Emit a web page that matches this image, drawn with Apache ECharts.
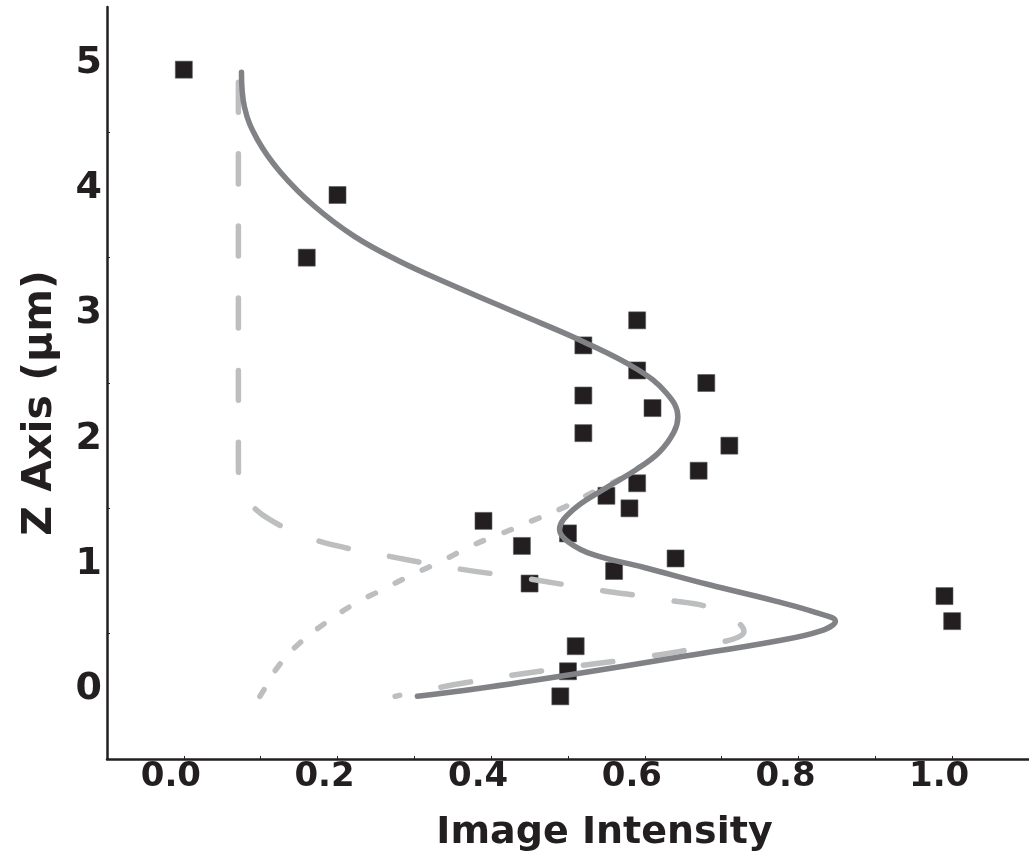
<!DOCTYPE html>
<html>
<head>
<meta charset="utf-8">
<title>Z profile of image intensity</title>
<script src="https://cdn.jsdelivr.net/npm/echarts@6/dist/echarts.min.js"></script>
<style>
  html, body { margin: 0; padding: 0; background: #ffffff; }
  #chart { width: 1029px; height: 863px; }
</style>
</head>
<body>
<div id="chart"></div>
<script>
// Measured intensity at each z position (square markers)
const measIntensity = [0.00, 0.20, 0.16, 0.59, 0.52, 0.59, 0.68, 0.52, 0.61, 0.52,
                       0.71, 0.67, 0.59, 0.55, 0.58, 0.39, 0.50, 0.44, 0.64, 0.56,
                       0.45, 0.99, 1.00, 0.51, 0.50, 0.49];
const measZ        = [5.0, 4.0, 3.5, 3.0, 2.8, 2.6, 2.5, 2.4, 2.3, 2.1,
                       2.0, 1.8, 1.7, 1.6, 1.5, 1.4, 1.3, 1.2, 1.1, 1.0,
                       0.9, 0.8, 0.6, 0.4, 0.2, 0.0];

// Total fitted profile (solid dark gray)
const fitIntensity = [0.075, 0.079, 0.096, 0.126, 0.170, 0.222, 0.278, 0.342, 0.433, 0.520,
                      0.590, 0.628, 0.643, 0.638, 0.619, 0.589, 0.546, 0.507, 0.489,
                      0.501, 0.533, 0.598, 0.684, 0.770, 0.822, 0.848, 0.828, 0.770, 0.641,
                      0.511, 0.381, 0.304];
const fitZ         = [4.98, 4.70, 4.44, 4.18, 3.91, 3.67, 3.48, 3.30, 3.06, 2.83,
                      2.61, 2.42, 2.23, 2.11, 1.95, 1.81, 1.65, 1.49, 1.33,
                      1.23, 1.13, 1.03, 0.89, 0.76, 0.67, 0.60, 0.52, 0.44, 0.31,
                      0.18, 0.06, 0.00];

// First fitted component (long dashes)
const comp1Intensity = [0.071, 0.071, 0.074, 0.089, 0.112, 0.152, 0.200, 0.265, 0.355, 0.446,
                        0.537, 0.628, 0.693, 0.729, 0.684, 0.595, 0.485, 0.368, 0.275];
const comp1Z         = [4.90, 1.87, 1.65, 1.52, 1.41, 1.29, 1.20, 1.12, 1.02, 0.94,
                        0.85, 0.77, 0.69, 0.52, 0.41, 0.31, 0.22, 0.11, 0.00];

// Second fitted component (short dashes)
const comp2Intensity = [0.099, 0.109, 0.123, 0.148, 0.183, 0.220, 0.258, 0.297, 0.336, 0.374,
                        0.414, 0.453, 0.492, 0.530, 0.573];
const comp2Z         = [0.00, 0.10, 0.24, 0.41, 0.58, 0.73, 0.85, 0.97, 1.08, 1.20,
                        1.30, 1.40, 1.50, 1.62, 1.75];

// Axis tick labels
const xTickLabels = ['0.0', '0.2', '0.4', '0.6', '0.8', '1.0'];
const yTickLabels = ['0', '1', '2', '3', '4', '5'];

const pairs = (xs, ys) => xs.map((x, i) => [x, ys[i]]);

const INK = '#231f20';
const FIT = '#808285';
const COMP = '#bcbec0';
const FONT = '"DejaVu Sans", "Liberation Sans", Arial, sans-serif';

const xLabelValues = xTickLabels.map(Number);
const yLabelValues = yTickLabels.map(Number);
const xTickValues = [];
for (let k = 0; k <= 10; k++) xTickValues.push(k / 10);
const yTickValues = [0.5, 1.5, 2.5, 3.5, 4.5];

const chart = echarts.init(document.getElementById('chart'), null, { renderer: 'canvas' });

chart.setOption({
  backgroundColor: '#ffffff',
  animation: false,
  grid: { left: 107, right: -3, top: 7, bottom: 104 },
  xAxis: {
    type: 'value',
    min: -0.1,
    max: 1.1,
    splitLine: { show: false },
    axisLine: { show: true, onZero: false, lineStyle: { color: INK, width: 2.5 } },
    axisTick: { show: true, inside: true, length: 3, customValues: xTickValues,
                lineStyle: { color: INK, width: 1 } },
    axisLabel: {
      customValues: xLabelValues,
      formatter: v => xTickLabels[xLabelValues.findIndex(t => Math.abs(t - v) < 1e-6)] ?? '',
      color: INK, fontFamily: FONT, fontWeight: 'bold', fontSize: 34,
      margin: 1, padding: [0, 26, 0, 0]
    },
    name: 'Image Intensity',
    nameLocation: 'middle',
    nameGap: 55,
    nameTextStyle: { color: INK, fontFamily: FONT, fontWeight: 'bold', fontSize: 38,
                     padding: [0, 0, 0, 73] }
  },
  yAxis: {
    type: 'value',
    min: -0.5,
    max: 5.5,
    splitLine: { show: false },
    axisLine: { show: true, onZero: false, lineStyle: { color: INK, width: 2.5 } },
    axisTick: { show: true, inside: true, length: 3, customValues: yTickValues,
                lineStyle: { color: INK, width: 1 } },
    axisLabel: {
      customValues: yLabelValues,
      formatter: v => yTickLabels[yLabelValues.findIndex(t => Math.abs(t - v) < 1e-6)] ?? '',
      color: INK, fontFamily: FONT, fontWeight: 'bold', fontSize: 38,
      margin: 5, verticalAlign: 'bottom', lineHeight: 14
    },
    name: 'Z Axis (\u03bcm)',
    nameLocation: 'middle',
    nameRotate: 90,
    nameGap: 46,
    nameTextStyle: { color: INK, fontFamily: FONT, fontWeight: 'bold', fontSize: 41,
                     padding: [0, 40, 0, 0] }
  },
  series: [
    {
      name: 'Measured',
      type: 'scatter',
      symbol: 'rect',
      symbolSize: 17,
      itemStyle: { color: INK, opacity: 1, borderColor: '#58595b', borderWidth: 0.6 },
      data: pairs(measIntensity, measZ)
    },
    {
      name: 'Component 2',
      type: 'line',
      smooth: 0.4,
      showSymbol: false,
      lineStyle: { color: COMP, width: 5.5, type: [8, 22], cap: 'round', join: 'round' },
      data: pairs(comp2Intensity, comp2Z)
    },
    {
      name: 'Component 1',
      type: 'line',
      smooth: 0.4,
      showSymbol: false,
      lineStyle: { color: COMP, width: 5.5, type: [30, 42], cap: 'round', join: 'round' },
      data: pairs(comp1Intensity, comp1Z)
    },
    {
      name: 'Fit',
      type: 'line',
      smooth: 0.4,
      showSymbol: false,
      lineStyle: { color: FIT, width: 5.5, cap: 'round', join: 'round' },
      data: pairs(fitIntensity, fitZ)
    }
  ]
});
</script>
</body>
</html>
